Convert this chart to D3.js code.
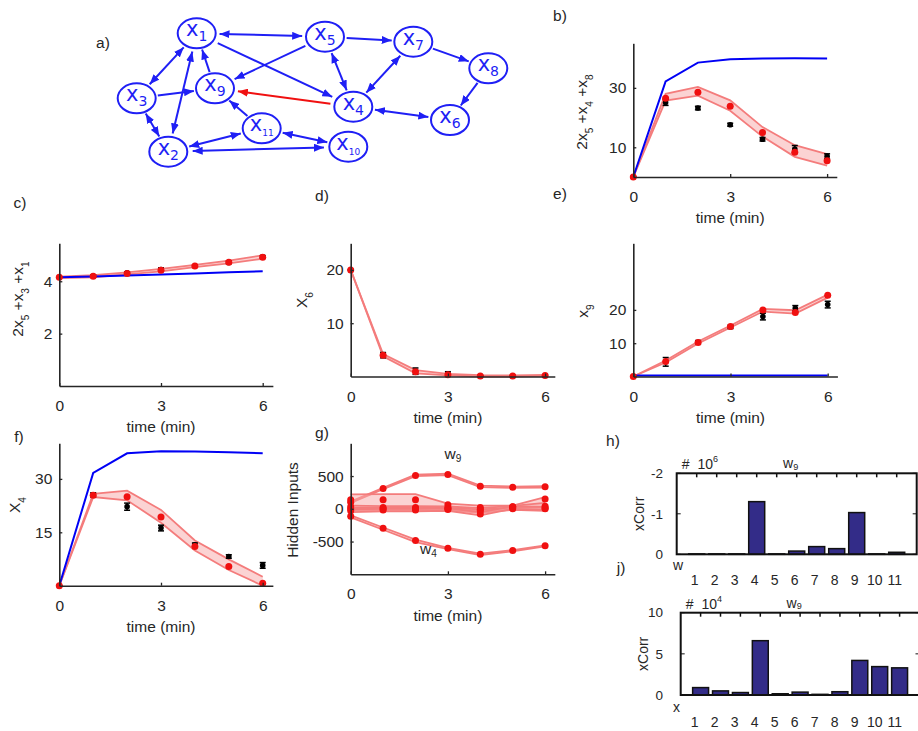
<!DOCTYPE html>
<html>
<head>
<meta charset="utf-8">
<script src="https://cdn.jsdelivr.net/npm/d3@7"></script>
<style>
  body { margin: 0; background: #fff; }
  text { font-family: "Liberation Sans", Arial, sans-serif; fill: #262626; }
</style>
</head>
<body>
<svg id="fig" width="918" height="731"></svg>
<script>
// ---- data ----
const times = [0, 1, 2, 3, 4, 5, 6];

// b) 2x5+x4+x8
const bBlue = [0, 32.2, 38.5, 39.6, 39.9, 40, 39.9];
const bRed = [0, 26.5, 28.5, 23.8, 15, 8.3, 5.5];
const bHi = [0, 28, 30.3, 25.8, 16.8, 10.7, 7.7];
const bLo = [0, 25.7, 27.4, 22.3, 13.6, 6.8, 3.8];
const bObs = [0, 25.1, 23.2, 17.6, 12.7, 9.4, 7.0];
const bErr = [0, 1, 0.6, 0.5, 0.6, 1.2, 0.8];

// c) 2x5+x3+x1
const cBlue = [4.15, 4.18, 4.22, 4.26, 4.3, 4.34, 4.38];
const cRed = [4.15, 4.19, 4.3, 4.42, 4.58, 4.73, 4.92];
const cHi = [4.18, 4.23, 4.34, 4.47, 4.63, 4.79, 4.99];
const cLo = [4.12, 4.15, 4.26, 4.38, 4.54, 4.68, 4.86];
const cObs = [4.15, 4.2, 4.32, 4.45, 4.58, 4.72, 4.93];
const cErr = [0, 0.05, 0.04, 0.06, 0.03, 0.05, 0.05];

// d) X6
const dRed = [20, 4, 0.9, 0.35, 0.1, 0.1, 0.2];
const dHi = [20, 4.2, 1.2, 0.5, 0.25, 0.2, 0.3];
const dLo = [20, 3.8, 0.6, 0.2, 0, 0, 0.1];
const dObs = [20, 4, 1, 0.5, 0.1, 0.1, 0.2];
const dErr = [0, 0.5, 0.6, 0.4, 0.1, 0.1, 0.1];

// e) x9
const eBlue = [0.3, 0.3, 0.3, 0.3, 0.3, 0.3, 0.3];
const eRed = [0, 4.5, 10.2, 15, 20, 19.2, 24.4];
const eHi = [0, 4.8, 10.5, 15.3, 20.3, 19.9, 24.6];
const eLo = [0, 4.2, 9.9, 14.7, 19.5, 18.9, 23.7];
const eObs = [0, 4.4, 10.3, 14.9, 18, 20.5, 21.6];
const eErr = [0, 1.3, 0.5, 0.5, 1, 0.8, 1];

// f) X4
const fBlue = [0, 31.7, 37.2, 37.8, 37.7, 37.5, 37.2];
const fRed = [0, 25.4, 25, 19.3, 11, 5.4, 0.7];
const fHi = [0, 25.8, 26.7, 21.3, 12.7, 7.4, 2.5];
const fLo = [0, 24.9, 24, 17.7, 9.9, 4.4, 0];
const fObs = [0, 25.5, 22.2, 16.2, 11.5, 8.2, 5.7];
const fErr = [0, 0.6, 1, 0.8, 0.5, 0.5, 0.8];

// g) hidden inputs (mean, low, high per input)
const gMeans = [
  [100, 310, 510, 525, 345, 330, 335],
  [-113, -297, -485, -603, -695, -638, -566],
  [140, 140, 140, 60, 20, 30, 150],
  [30, 20, 20, 20, -10, 30, 40],
  [0, 0, 0, 0, -30, 0, 0],
  [-30, -20, -20, -10, -80, 20, 10]
];
const gLows = [
  [90, 300, 500, 515, 330, 320, 325],
  [-130, -320, -510, -615, -705, -648, -575],
  [10, 10, 10, -10, -20, 0, 20],
  [0, 0, 0, 0, -40, 10, 0],
  [-20, -20, -20, -20, -60, -15, -30],
  [-50, -40, -40, -30, -100, 0, -20]
];
const gHighs = [
  [110, 320, 520, 535, 355, 340, 345],
  [-100, -285, -470, -595, -685, -630, -560],
  [220, 225, 225, 80, 50, 50, 180],
  [50, 40, 40, 35, 10, 45, 90],
  [15, 15, 15, 15, -10, 15, 20],
  [-10, 0, 0, 5, -50, 35, 30]
];

// h) and j) cross correlations
const barIdx = [1, 2, 3, 4, 5, 6, 7, 8, 9, 10, 11];
const hVals = [-0.01, -0.01, -0.01, -1.3, -0.01, -0.08, -0.19, -0.14, -1.03, -0.01, -0.05];
const jVals = [0.9, 0.5, 0.3, 6.6, 0.15, 0.35, 0.08, 0.4, 4.2, 3.45, 3.3];

// a) network
const nodeNames = ["1", "2", "3", "4", "5", "6", "7", "8", "9", "10", "11"];
const nodeX = [116.7, 88.3, 56.7, 273.3, 245, 370, 333.3, 408.3, 135, 268.3, 181.7];
const nodeY = [33.3, 151.7, 98.3, 106.7, 36.7, 120, 41.7, 68.3, 88.3, 146.7, 128.3];
// [from, to, both ways]
const edges = [
  [1, 5, true], [5, 7, false], [7, 8, false], [8, 6, false], [6, 4, true],
  [4, 7, true], [5, 4, true], [1, 4, false], [5, 9, false], [9, 1, false],
  [3, 9, false], [3, 1, true], [3, 2, true], [2, 1, true], [11, 9, false],
  [11, 2, true], [11, 10, true], [2, 10, true]
];
const redEdge = [4, 9];

const svg = d3.select("#fig");
const ink = "#262626";
const font = 15.5;

function richText(sel, parts, size, subDrop = 0.38) {
  let shift = 0;
  parts.forEach(([s, kind]) => {
    const want = kind === "sub" ? size * subDrop : kind === "sup" ? -size * 0.45 : 0;
    sel.append("tspan").attr("dy", want - shift)
      .attr("font-size", kind ? size * 0.65 : size).text(s);
    shift = want;
  });
}

function panelLabel(txt, x, y) {
  svg.append("text").attr("x", x).attr("y", y).attr("text-anchor", "middle")
    .attr("dy", "0.35em").attr("font-size", font).text(txt);
}

// ---------- time course panels ----------
function timePanel(p) {
  const x = d3.scaleLinear().domain([0, 6.3]).range([p.left, p.left + 6.3 * p.unit]);
  const y = d3.scaleLinear().domain(p.yDomain).range([p.bottom, p.top]);
  const g = svg.append("g");
  const line = vals => d3.line().x((d, i) => x(times[i])).y(d => y(d))(vals);

  (p.bands || []).forEach(([lo, hi]) => {
    g.append("path")
      .attr("d", d3.area().x(d => x(d)).y0((d, i) => y(lo[i])).y1((d, i) => y(hi[i]))(times))
      .attr("fill", "#f7a8a8").attr("fill-opacity", 0.5);
    [lo, hi].forEach(v => g.append("path").attr("d", line(v))
      .attr("fill", "none").attr("stroke", "#f47c7c").attr("stroke-width", 1.8));
  });

  if (p.blue) g.append("path").attr("d", line(p.blue)).attr("fill", "none")
    .attr("stroke", "#0000f5").attr("stroke-width", 2);

  if (p.obs) {
    const eb = g.selectAll(".eb").data(times).enter().append("g");
    eb.append("line").attr("x1", d => x(d)).attr("x2", d => x(d))
      .attr("y1", (d, i) => y(p.obs[i] - p.err[i])).attr("y2", (d, i) => y(p.obs[i] + p.err[i]))
      .attr("stroke", "#000").attr("stroke-width", 1.5);
    [-1, 1].forEach(s => eb.append("line")
      .attr("x1", d => x(d) - 3).attr("x2", d => x(d) + 3)
      .attr("y1", (d, i) => y(p.obs[i] + s * p.err[i])).attr("y2", (d, i) => y(p.obs[i] + s * p.err[i]))
      .attr("stroke", "#000").attr("stroke-width", 1.5));
    eb.append("circle").attr("cx", d => x(d)).attr("cy", (d, i) => y(p.obs[i]))
      .attr("r", 2.8).attr("fill", "#000");
  }

  p.reds.forEach(vals => {
    g.selectAll(null).data(vals).enter().append("circle")
      .attr("cx", (d, i) => x(times[i])).attr("cy", d => y(d))
      .attr("r", 3.5).attr("fill", "#f01010");
  });

  const xa = g.append("g").attr("transform", `translate(0,${y(p.yDomain[0])})`)
    .call(d3.axisBottom(x).tickValues([0, 3, 6]).tickFormat(d => String(d))
      .tickSizeInner(-3).tickSizeOuter(0).tickPadding(14));
  const ya = g.append("g").attr("transform", `translate(${x(0)},0)`)
    .call(d3.axisLeft(y).tickValues(p.yTicks).tickFormat(d => String(d))
      .tickSizeInner(-3).tickSizeOuter(0).tickPadding(7));
  [xa, ya].forEach(a => {
    a.select(".domain").attr("stroke", ink).attr("stroke-width", 1.6);
    a.selectAll(".tick line").attr("stroke", ink).attr("stroke-width", 1.3);
    a.selectAll("text").attr("font-size", font).attr("fill", ink);
  });

  g.append("text").attr("x", x(3)).attr("y", y(p.yDomain[0]) + 41)
    .attr("dy", "0.35em").attr("text-anchor", "middle").attr("font-size", font).text("time (min)");

  const yl = g.append("text").attr("text-anchor", "middle")
    .attr("transform", `translate(${p.yLabelX},${p.yLabelY}) rotate(-90)`)
    .attr("dy", "0.35em").attr("font-size", font);
  richText(yl, p.yLabel, font);
  return { x, y, g };
}

// b
timePanel({
  left: 633.3, unit: 32.3, bottom: 177, top: 43.3, yDomain: [0, 45], yTicks: [10, 30],
  bands: [[bLo, bHi]], blue: bBlue, obs: bObs, err: bErr, reds: [bRed],
  yLabelX: 587, yLabelY: 112,
  yLabel: [["2x", ""], ["5", "sub"], [" +x", ""], ["4", "sub"], [" +x", ""], ["8", "sub"]]
});
// c
timePanel({
  left: 59.3, unit: 33.9, bottom: 386, top: 243.3, yDomain: [0, 5.45], yTicks: [2, 4],
  bands: [[cLo, cHi]], blue: cBlue, obs: cObs, err: cErr, reds: [cRed],
  yLabelX: 23, yLabelY: 299,
  yLabel: [["2x", ""], ["5", "sub"], [" +x", ""], ["3", "sub"], [" +x", ""], ["1", "sub"]]
});
// d
timePanel({
  left: 350.7, unit: 32.4, bottom: 376.5, top: 243.3, yDomain: [0, 25], yTicks: [10, 20],
  bands: [[dLo, dHi]], obs: dObs, err: dErr, reds: [dRed],
  yLabelX: 307, yLabelY: 300,
  yLabel: [["X", ""], ["6", "sub"]]
});
// e
timePanel({
  left: 633.3, unit: 32.4, bottom: 376.5, top: 243.3, yDomain: [0, 40], yTicks: [10, 20],
  bands: [[eLo, eHi]], blue: eBlue, obs: eObs, err: eErr, reds: [eRed],
  yLabelX: 588, yLabelY: 311,
  yLabel: [["x", ""], ["9", "sub"]]
});
// f
timePanel({
  left: 59.3, unit: 33.9, bottom: 585.7, top: 443.3, yDomain: [0, 40], yTicks: [15, 30],
  bands: [[fLo, fHi]], blue: fBlue, obs: fObs, err: fErr, reds: [fRed],
  yLabelX: 20, yLabelY: 505,
  yLabel: [["X", ""], ["4", "sub"]]
});
// g
const gp = timePanel({
  left: 350.7, unit: 32.4, bottom: 574.3, top: 443.3, yDomain: [-1000, 1000], yTicks: [-500, 0, 500],
  bands: gMeans.map((m, k) => [gLows[k], gHighs[k]]), reds: gMeans,
  yLabelX: 298, yLabelY: 510,
  yLabel: [["Hidden Inputs", ""]]
});
const w9 = gp.g.append("text").attr("x", gp.x(3) + 5).attr("y", gp.y(760)).attr("text-anchor", "middle").attr("font-size", font);
richText(w9, [["w", ""], ["9", "sub"]], font, 0.2);
const w4 = gp.g.append("text").attr("x", gp.x(2.4)).attr("y", gp.y(-690)).attr("text-anchor", "middle").attr("font-size", font);
richText(w4, [["w", ""], ["4", "sub"]], font, 0.2);

// ---------- bar panels ----------
function barPanel(p) {
  const x = d3.scaleLinear().domain([0, 12]).range([p.left, p.left + 12 * p.unit]);
  const y = d3.scaleLinear().domain(p.yDomain).range([p.bottom, p.top]);
  const g = svg.append("g");
  g.selectAll("rect.bar").data(p.vals).enter().append("rect").attr("class", "bar")
    .attr("x", (d, i) => x(barIdx[i] - 0.4)).attr("width", x(0.8) - x(0))
    .attr("y", d => Math.min(y(d), y(0))).attr("height", d => Math.abs(y(d) - y(0)))
    .attr("fill", "#332c88").attr("stroke", "#111").attr("stroke-width", 1.5);
  g.append("rect").attr("x", x(0)).attr("y", p.top).attr("width", x(12) - x(0))
    .attr("height", p.bottom - p.top).attr("fill", "none").attr("stroke", "#111").attr("stroke-width", 2);
  g.selectAll(".tt").data(barIdx).enter().append("line")
    .attr("x1", d => x(d)).attr("x2", d => x(d)).attr("y1", p.top).attr("y2", p.top + 4)
    .attr("stroke", "#111").attr("stroke-width", 1.5);
  p.yTicks.forEach(v => {
    g.append("line").attr("x1", x(0)).attr("x2", x(0) + 4).attr("y1", y(v)).attr("y2", y(v)).attr("stroke", "#111");
    g.append("line").attr("x1", x(12)).attr("x2", x(12) - 4).attr("y1", y(v)).attr("y2", y(v)).attr("stroke", "#111");
    g.append("text").attr("x", 663).attr("y", y(v)).attr("dy", "0.35em").attr("text-anchor", "end")
      .attr("font-size", 13.5).text(String(v));
  });
  g.append("text").attr("transform", `translate(${p.yLabelX},${y(p.yDomain[1] / 2)}) rotate(-90)`)
    .attr("text-anchor", "middle").attr("dy", "0.35em").attr("font-size", 14).text("xCorr");
  const ex = g.append("text").attr("x", x(0) + 5).attr("y", p.top - 4).attr("font-size", 14);
  ex.append("tspan").text("#");
  ex.append("tspan").attr("dx", 8).text("10");
  ex.append("tspan").attr("dy", -7).attr("font-size", 9).text(p.exp);
  const wl = g.append("text").attr("x", x(5.7)).attr("y", p.top - 5).attr("text-anchor", "middle").attr("font-size", 14);
  richText(wl, [["w", ""], ["9", "sub"]], 14, 0.1);
  return { x, y, g };
}

const hp = barPanel({ left: 676.7, unit: 20, bottom: 554.3, top: 473.3, yDomain: [0, -2], yTicks: [-2, -1, 0],
  vals: hVals, exp: "6", yLabelX: 639 });
const jp = barPanel({ left: 680.7, unit: 19.9, bottom: 695, top: 612.7, yDomain: [0, 10], yTicks: [10, 5, 0],
  vals: jVals, exp: "4", yLabelX: 643 });

// index rows under h and j
[[570, 585, "w"], [712, 727, "x"]].forEach(([ly, ry, name]) => {
  svg.append("text").attr("x", 673).attr("y", ly).attr("font-size", 14).text(name);
  svg.selectAll(null).data(barIdx).enter().append("text")
    .attr("x", d => hp.x(d) - 2).attr("y", ry).attr("text-anchor", "middle")
    .attr("font-size", 14).text(d => String(d));
});

// ---------- a) network ----------
const nx = d3.scaleLinear().domain([0, 440]).range([80, 520]);
const ny = d3.scaleLinear().domain([0, 170]).range([0, 170]);
const rx = 19, ry = 15;
const defs = svg.append("defs");
[["arB", "#1f1ff5"], ["arR", "#f01010"]].forEach(([id, c]) => {
  defs.append("marker").attr("id", id).attr("viewBox", "0 0 10 8").attr("refX", 10).attr("refY", 4)
    .attr("markerWidth", 10).attr("markerHeight", 8).attr("markerUnits", "userSpaceOnUse")
    .attr("orient", "auto-start-reverse")
    .append("path").attr("d", "M0,0 L10,4 L0,8 z").attr("fill", c);
});
function edgePts(a, b) {
  const x1 = nx(nodeX[a - 1]), y1 = ny(nodeY[a - 1]);
  const x2 = nx(nodeX[b - 1]), y2 = ny(nodeY[b - 1]);
  const dx = x2 - x1, dy = y2 - y1;
  const t = 1 / Math.sqrt((dx / rx) ** 2 + (dy / ry) ** 2) + 0.03;
  return [x1 + dx * t, y1 + dy * t, x2 - dx * t, y2 - dy * t];
}
const net = svg.append("g");
edges.forEach(([a, b, both]) => {
  const [x1, y1, x2, y2] = edgePts(a, b);
  const l = net.append("line").attr("x1", x1).attr("y1", y1).attr("x2", x2).attr("y2", y2)
    .attr("stroke", "#1f1ff5").attr("stroke-width", 2).attr("marker-end", "url(#arB)");
  if (both) l.attr("marker-start", "url(#arB)");
});
{
  const [x1, y1, x2, y2] = edgePts(redEdge[0], redEdge[1]);
  net.append("line").attr("x1", x1).attr("y1", y1).attr("x2", x2).attr("y2", y2)
    .attr("stroke", "#f01010").attr("stroke-width", 2).attr("marker-end", "url(#arR)");
}
const nodes = net.selectAll(".node").data(nodeNames).enter().append("g")
  .attr("transform", (d, i) => `translate(${nx(nodeX[i])},${ny(nodeY[i])})`);
nodes.append("ellipse").attr("rx", rx).attr("ry", ry).attr("fill", "#fff")
  .attr("stroke", "#1f1ff5").attr("stroke-width", 2);
nodes.each(function (d) {
  const t = d3.select(this).append("text").attr("text-anchor", "middle").attr("y", 3)
    .style("font-family", "'DejaVu Sans', sans-serif").style("fill", "#1f1ff5");
  t.append("tspan").attr("font-size", 21).text("x");
  t.append("tspan").attr("dy", 5).attr("font-size", d.length > 1 ? 9 : 14).text(d);
});

// panel letters
panelLabel("a)", 103, 43);
panelLabel("b)", 560, 16);
panelLabel("c)", 20, 203);
panelLabel("d)", 322, 196);
panelLabel("e)", 560, 194);
panelLabel("f)", 19, 437);
panelLabel("g)", 322, 433);
panelLabel("h)", 613, 441);
panelLabel("j)", 621, 568);
</script>
</body>
</html>
